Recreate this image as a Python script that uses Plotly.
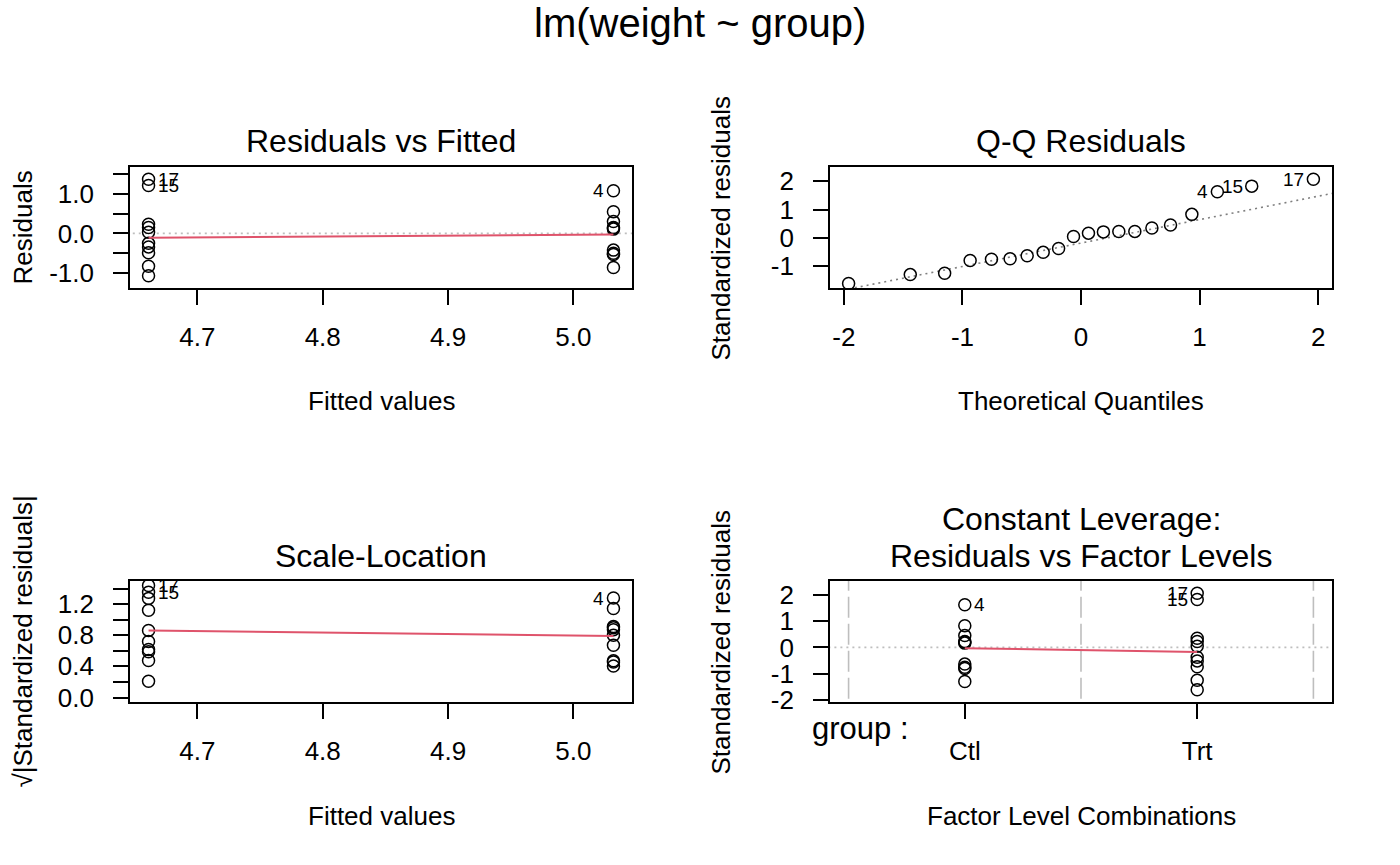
import plotly.graph_objects as go
import numpy as np

FONT = "Liberation Sans, Arial, Helvetica, sans-serif"
W = 1400
HEFF = 851  # effective rendered height of the page (measured from earlier renders)

# ---------------- data (lm(weight ~ group)) ----------------
obs_ids = list(range(1, 21))
group_levels = ["Ctl", "Trt"]
group = ["Ctl"] * 10 + ["Trt"] * 10
fitted = [5.032, 5.032, 5.032, 5.032, 5.032, 5.032, 5.032, 5.032, 5.032, 5.032,
          4.661, 4.661, 4.661, 4.661, 4.661, 4.661, 4.661, 4.661, 4.661, 4.661]
residuals = [-0.862, 0.548, 0.148, 1.078, -0.532, -0.422, 0.138, -0.502, 0.298, 0.108,
             0.149, -0.491, -0.251, -1.071, 1.209, -0.831, 1.369, 0.229, -0.341, 0.029]
std_resid = [-1.3048, 0.8295, 0.2240, 1.6317, -0.8053, -0.6388, 0.2089, -0.7599, 0.4511, 0.1635,
             0.2255, -0.7432, -0.3799, -1.6211, 1.8300, -1.2578, 2.0722, 0.3466, -0.5162, 0.0439]
sqrt_abs_std = [1.1423, 0.9108, 0.4733, 1.2774, 0.8974, 0.7993, 0.4571, 0.8717, 0.6716, 0.4043,
                0.4749, 0.8621, 0.6164, 1.2732, 1.3528, 1.1215, 1.4395, 0.5887, 0.7185, 0.2095]
# theoretical normal quantiles for the sorted standardized residuals
qq_theoretical = [-1.960, -1.440, -1.150, -0.935, -0.755, -0.598, -0.454, -0.319, -0.189, -0.063,
                  0.063, 0.189, 0.319, 0.454, 0.598, 0.755, 0.935, 1.150, 1.440, 1.960]
# red smoother values
smooth_x = [4.661, 5.032]
smooth_resid = [-0.11, -0.03]
smooth_scale = [0.86, 0.79]
smooth_factor = [-0.03, -0.18]
labelled_obs = [17, 15, 4]

# ticks
p1_xticks = [4.7, 4.8, 4.9, 5.0]
p1_xtext = ["4.7", "4.8", "4.9", "5.0"]
p1_yticks = [-1.0, -0.5, 0.0, 0.5, 1.0, 1.5]
p1_ytext = ["-1.0", "", "0.0", "", "1.0", ""]
p2_xticks = [-2, -1, 0, 1, 2]
p2_xtext = ["-2", "-1", "0", "1", "2"]
p2_yticks = [-1, 0, 1, 2]
p2_ytext = ["-1", "0", "1", "2"]
p3_yticks = [0.0, 0.2, 0.4, 0.6, 0.8, 1.0, 1.2, 1.4]
p3_ytext = ["0.0", "", "0.4", "", "0.8", "", "1.2", ""]
p4_yticks = [-2, -1, 0, 1, 2]
p4_ytext = ["-2", "-1", "0", "1", "2"]

RED = "#DF536B"
GRAY = "#BEBEBE"
GRAY50 = "#7F7F7F"

def px(x, y):
    return x / W, 1 - y / HEFF

# panel boxes in pixels: (left, right, top, bottom)
boxes = {
    1: (130, 632, 166, 287),
    2: (830, 1332, 166, 287),
    3: (130, 632, 580, 701),
    4: (830, 1332, 580, 701),
}

fig = go.Figure()

marker = dict(symbol="circle-open", size=12, color="black", line=dict(width=1.5, color="black"))

# panel 1: residuals vs fitted
fig.add_trace(go.Scatter(x=[4.5, 5.2], y=[0, 0], mode="lines", xaxis="x", yaxis="y",
                         line=dict(color=GRAY, width=1.6, dash="2px,4px"), hoverinfo="skip"))
fig.add_trace(go.Scatter(x=fitted, y=residuals, mode="markers", xaxis="x", yaxis="y", marker=marker))
fig.add_trace(go.Scatter(x=smooth_x, y=smooth_resid, mode="lines", xaxis="x", yaxis="y",
                         line=dict(color=RED, width=2)))

# panel 2: Q-Q
order = np.argsort(std_resid, kind="stable")
qq_y = np.array(std_resid)[order]
qq_ids = np.array(obs_ids)[order]
q1, q3 = np.quantile(std_resid, [0.25, 0.75])
t1, t3 = -0.6745, 0.6745
slope = (q3 - q1) / (t3 - t1)
intercept = q1 - slope * t1
lx = np.array([-3.0, 3.0])
fig.add_trace(go.Scatter(x=lx, y=intercept + slope * lx, mode="lines", xaxis="x2", yaxis="y2",
                         line=dict(color=GRAY50, width=1.6, dash="2px,4px"), hoverinfo="skip"))
fig.add_trace(go.Scatter(x=qq_theoretical, y=qq_y, mode="markers", xaxis="x2", yaxis="y2", marker=marker))

# panel 3: scale-location
fig.add_trace(go.Scatter(x=fitted, y=sqrt_abs_std, mode="markers", xaxis="x3", yaxis="y3", marker=marker))
fig.add_trace(go.Scatter(x=smooth_x, y=smooth_scale, mode="lines", xaxis="x3", yaxis="y3",
                         line=dict(color=RED, width=2)))

# panel 4: residuals vs factor levels
lev_pos = [group_levels.index(g) for g in group]
for v in [-0.5, 0.5, 1.5]:
    fig.add_trace(go.Scatter(x=[v, v], y=[-3, 3], mode="lines", xaxis="x4", yaxis="y4",
                             line=dict(color=GRAY, width=1.6, dash="21px,6px"), hoverinfo="skip"))
fig.add_trace(go.Scatter(x=[-1, 2], y=[0, 0], mode="lines", xaxis="x4", yaxis="y4",
                         line=dict(color=GRAY, width=1.6, dash="2px,4px"), hoverinfo="skip"))
fig.add_trace(go.Scatter(x=lev_pos, y=std_resid, mode="markers", xaxis="x4", yaxis="y4", marker=marker))
fig.add_trace(go.Scatter(x=[0, 1], y=smooth_factor, mode="lines", xaxis="x4", yaxis="y4",
                         line=dict(color=RED, width=2)))

# ---------------- axes ----------------
def axis_common(domain, rng, tickvals, ticktext, standoff=0):
    return dict(domain=domain, range=rng, showline=True, mirror=True, linecolor="black", linewidth=1.7,
                ticks="outside", ticklen=15, tickwidth=1.7, tickcolor="black", showgrid=False,
                zeroline=False, tickmode="array", tickvals=tickvals, ticktext=ticktext,
                tickfont=dict(family=FONT, size=26, color="black"), fixedrange=True,
                ticklabelstandoff=standoff)

def xdom(i):
    l, r, t, b = boxes[i]
    return [l / W, r / W]

def ydom(i):
    l, r, t, b = boxes[i]
    return [1 - b / HEFF, 1 - t / HEFF]

XSO = 10
YSO = 14
layout = dict(
    autosize=True, margin=dict(l=0, r=0, t=0, b=0, pad=0),
    paper_bgcolor="white", plot_bgcolor="white", showlegend=False,
    font=dict(family=FONT, color="black"),
    xaxis=dict(axis_common(xdom(1), [4.6462, 5.0468], p1_xticks, p1_xtext, XSO), anchor="y"),
    yaxis=dict(axis_common(ydom(1), [-1.379, 1.677], p1_yticks, p1_ytext, YSO), anchor="x"),
    xaxis2=dict(axis_common(xdom(2), [-2.117, 2.117], p2_xticks, p2_xtext, XSO), anchor="y2"),
    yaxis2=dict(axis_common(ydom(2), [-1.780, 2.508], p2_yticks, p2_ytext, YSO), anchor="x2"),
    xaxis3=dict(axis_common(xdom(3), [4.6462, 5.0468], p1_xticks, p1_xtext, XSO), anchor="y3"),
    yaxis3=dict(axis_common(ydom(3), [-0.0576, 1.4966], p3_yticks, p3_ytext, YSO), anchor="x3"),
    xaxis4=dict(axis_common(xdom(4), [-0.58, 1.58], [0, 1], group_levels, XSO), anchor="y4"),
    yaxis4=dict(axis_common(ydom(4), [-2.088, 2.539], p4_yticks, p4_ytext, YSO), anchor="x4"),
)
fig.update_layout(**layout)

ann = []

def text_px(x, y, s, size, angle=0, xanchor="center"):
    xp, yp = px(x, y)
    ann.append(dict(x=xp, y=yp, xref="paper", yref="paper", text=s, showarrow=False,
                    font=dict(family=FONT, size=size, color="black"), textangle=angle,
                    xanchor=xanchor, yanchor="middle"))

text_px(700, 22, "lm(weight ~ group)", 40)
text_px(381, 140, "Residuals vs Fitted", 32)
text_px(1081, 140, "Q-Q Residuals", 32)
text_px(381, 555, "Scale-Location", 32)
text_px(1081, 518, "Constant Leverage:", 32)
text_px(1081, 555, "Residuals vs Factor Levels", 32)
text_px(381, 400, "Fitted values", 26)
text_px(1081, 400, "Theoretical Quantiles", 26)
text_px(381, 815, "Fitted values", 26)
text_px(1081, 815, "Factor Level Combinations", 26)
text_px(22, 226.5, "Residuals", 26, -90)
text_px(720, 226.5, "Standardized residuals", 26, -90)
text_px(22, 640.5, "√|Standardized residuals|", 26, -90)
text_px(720, 640.5, "Standardized residuals", 26, -90)
text_px(810, 727, "group :", 31, 0, "left")

LBL = 19

def point_label(xa, ya, x, y, s, right):
    ann.append(dict(x=x, y=y, xref=xa, yref=ya, text=s, showarrow=False,
                    font=dict(family=FONT, size=LBL, color="black"),
                    xanchor="left" if right else "right", yanchor="middle",
                    xshift=7 if right else -7))

mid1 = (min(fitted) + max(fitted)) / 2
for oid in labelled_obs:
    i = oid - 1
    point_label("x", "y", fitted[i], residuals[i], str(oid), fitted[i] < mid1)
    point_label("x3", "y3", fitted[i], sqrt_abs_std[i], str(oid), fitted[i] < mid1)
    point_label("x4", "y4", lev_pos[i], std_resid[i], str(oid), lev_pos[i] < 0.5)
for k, oid in enumerate(qq_ids):
    if oid in labelled_obs:
        point_label("x2", "y2", qq_theoretical[k], qq_y[k], str(oid), qq_theoretical[k] < 0)

fig.update_layout(annotations=ann)

post = ("document.documentElement.style.margin='0';document.body.style.margin='0';"
        "document.documentElement.style.overflow='hidden';document.body.style.overflow='hidden';"
        "var gd=document.getElementById('{plot_id}');gd.style.width='100vw';gd.style.height='100vh';"
        "Plotly.Plots.resize(gd);")
fig.write_html("out.html", config={"displayModeBar": False, "responsive": True},
               default_width="100vw", default_height="100vh", post_script=post)
